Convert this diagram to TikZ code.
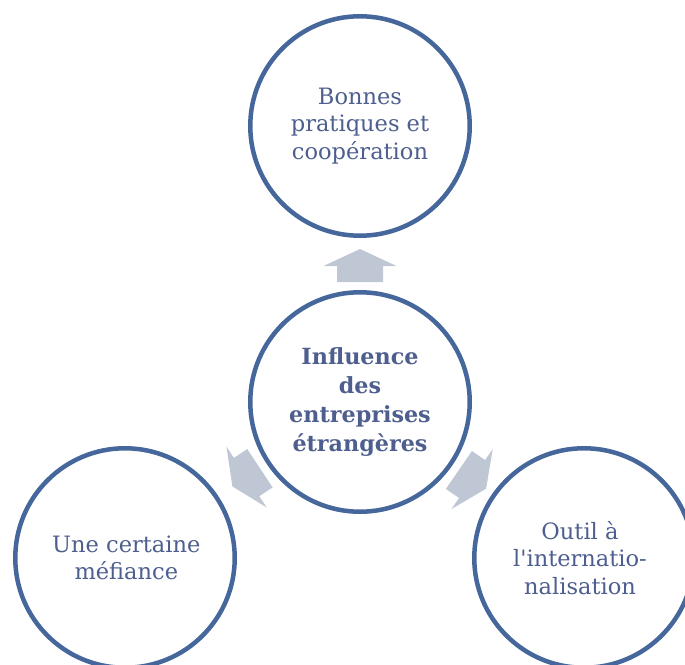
\documentclass[tikz,border=0pt]{standalone}
\usepackage{fontspec}
\setmainfont{DejaVu Serif}
\definecolor{ringblue}{HTML}{45679B}
\definecolor{txtblue}{HTML}{4E5F8F}
\definecolor{arrowgray}{HTML}{C0C7D4}
\tikzset{
  ring/.style={circle, draw=ringblue, line width=3.375pt, fill=white,
    minimum size=164.6pt, inner sep=0pt},
  ringtext/.style={text=txtblue, align=center, font=\fontsize{16.9}{20.6}\selectfont},
  centertext/.style={text=txtblue, align=center, font=\fontsize{16.7}{21.8}\selectfont\bfseries},
  blockarrow/.style={fill=arrowgray, draw=none}
}
\begin{document}
\begin{tikzpicture}[x=0.75pt,y=-0.75pt]
\useasboundingbox (0,0) rectangle (685,664);
% circles
\node[ring] (top) at (360,126) {};
\node[ring] (mid) at (360,402) {};
\node[ring] (left) at (125,558) {};
\node[ring] (right) at (584,558) {};
% texts
\node[ringtext] (ttop) at (top.center) {Bonnes\\pratiques et\\coopération};
\node[centertext] (tmid) at (mid.center) {Influence\\des\\entreprises\\étrangères};
\node[ringtext] (tleft) at ([xshift=1pt]left.center) {Une certaine\\méfiance};
\node[ringtext] (tright) at ([xshift=-3pt]right.center) {Outil à\\l\textquotesingle internatio-\\nalisation};
% arrows
\foreach \ang in {90,213.5,-34.5}{
  \begin{scope}[shift={(mid.center)}, rotate=\ang]
    \fill[blockarrow] (120,-23) -- (136,-23) -- (136,-36.5) -- (153,0)
      -- (136,36.5) -- (136,23) -- (120,23) -- cycle;
  \end{scope}
}
\end{tikzpicture}
\end{document}
